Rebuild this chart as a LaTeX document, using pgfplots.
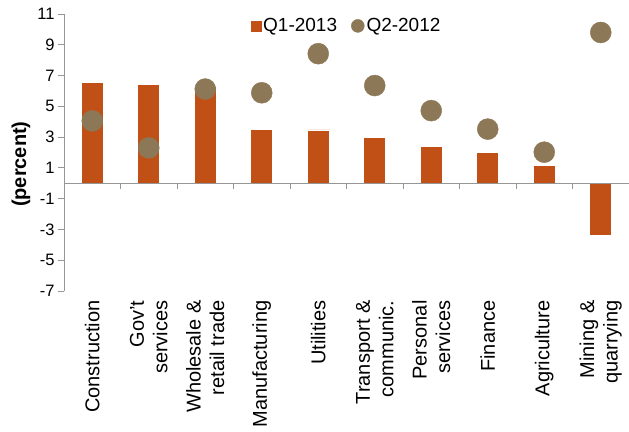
\documentclass[border=0pt]{standalone}
\usepackage{fontspec}
\setmainfont{Liberation Sans}
\usepackage{pgfplots}
\pgfplotsset{compat=1.18}
\definecolor{barc}{RGB}{192,80,21}
\definecolor{dotc}{RGB}{140,120,86}
\definecolor{axc}{RGB}{150,150,150}

\begin{document}
\begin{tikzpicture}
\begin{axis}[
  scale only axis, width=565pt, height=277pt,
  xmin=-0.5, xmax=9.5, ymin=-7, ymax=11,
  clip=false,
  axis y line*=left, axis x line*=bottom,
  x axis line style={draw=none},
  y axis line style={axc, line width=0.8pt},
  ytick={-7,-5,...,11},
  yticklabels={-7,-5,-3,-1,1,3,5,7,9,11},
  ytick style={axc, line width=0.8pt},
  tick align=outside, major tick length=6pt,
  xtick={0,...,9},
  xtick style={draw=none},
  xticklabels={Construction, {Gov't\\services}, {Wholesale \&\\retail trade},
    Manufacturing, Utilities, {Transport \&\\communic.}, {Personal\\services},
    Finance, Agriculture, {Mining \&\\quarrying}},
  xticklabel style={rotate=90, anchor=east, align=right,
    font=\fontsize{20}{23.5}\selectfont},
  yticklabel style={font=\fontsize{16.5}{18}\selectfont},
  every axis y label/.style={at={(rel axis cs:0,0.458)}, rotate=90,
    anchor=center, yshift=43pt, font=\fontsize{20}{22}\selectfont\bfseries},
  ylabel={(percent)},
  legend style={draw=none, fill=none, at={(0.5,0.957)}, anchor=center,
    legend columns=2, font=\fontsize{19}{20}\selectfont,
    /tikz/every even column/.append style={column sep=12pt}},
]
% Q1-2013 bars
\addplot[ybar, bar width=22pt, fill=barc, draw=white, line width=0.6pt,
  legend image code/.code={\fill[barc] (0pt,-5pt) rectangle (10pt,5pt);}]
  coordinates {(0,6.55) (1,6.42) (2,6.28) (3,3.52) (4,3.47)
    (5,2.98) (6,2.38) (7,2.02) (8,1.17) (9,-3.4)};
\addlegendentry{Q1-2013}
% Q2-2012 dots
\addplot[only marks, mark=*, mark size=10.5pt, dotc,
  mark options={draw=dotc, fill=dotc},
  legend image code/.code={\fill[dotc] (6.5pt,0pt) circle (6.5pt);}]
  coordinates {(0,4.05) (1,2.3) (2,6.12) (3,5.88) (4,8.42)
    (5,6.35) (6,4.72) (7,3.52) (8,2.02) (9,9.8)};
\addlegendentry{Q2-2012}

% zero line with category separators
\draw[axc, line width=0.8pt] (axis cs:-0.5,0) -- (axis cs:9.5,0);
\pgfplotsinvokeforeach{0.5,1.5,2.5,3.5,4.5,5.5,6.5,7.5,8.5}{
  \draw[axc, line width=0.8pt] (axis cs:#1,0) -- ([yshift=-6pt]axis cs:#1,0);}

\coordinate (sw) at (rel axis cs:0,0);
\coordinate (ne) at (rel axis cs:1,1);
\end{axis}
\pgfresetboundingbox
\path ([shift={(-64pt,-141pt)}]sw) rectangle ([shift={(0pt,14pt)}]ne);
\end{tikzpicture}
\end{document}
